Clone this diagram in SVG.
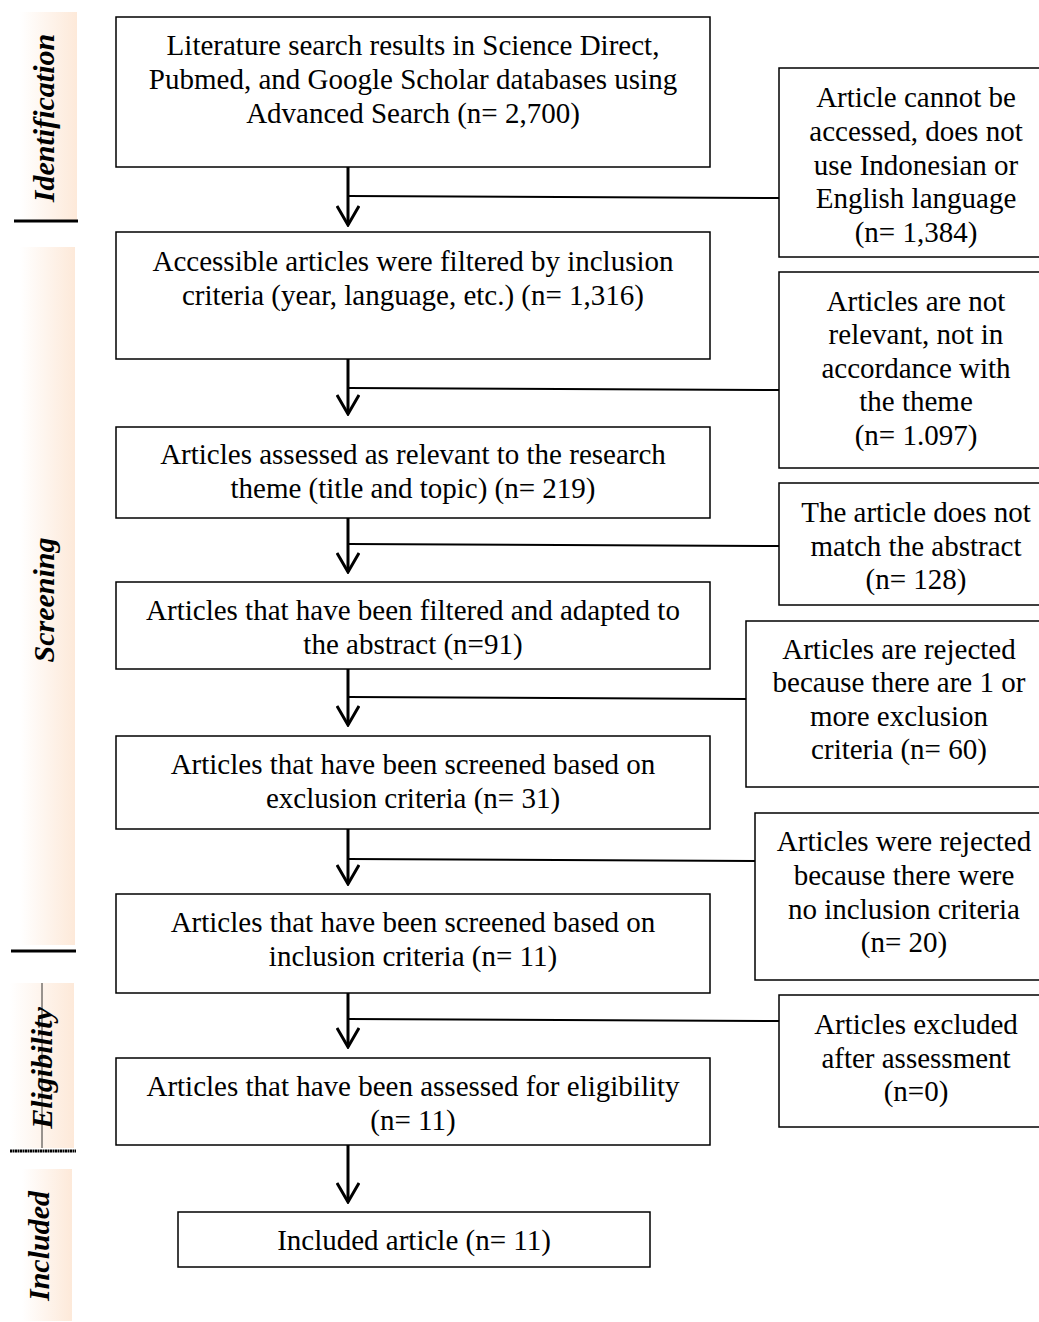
<svg xmlns="http://www.w3.org/2000/svg" width="1039" height="1322" viewBox="0 0 1039 1322">
<defs>
<linearGradient id="band" x1="0" y1="0" x2="1" y2="0">
<stop offset="0" stop-color="#ffffff"/>
<stop offset="1" stop-color="#fde9d9"/>
</linearGradient>
<marker id="chev" viewBox="0 0 22 24" refX="20" refY="12" markerWidth="22" markerHeight="24" markerUnits="userSpaceOnUse" orient="auto">
<path d="M1,1 L20,12 L1,23" fill="none" stroke="#000" stroke-width="3"/>
</marker>
</defs>
<style>
.box{fill:#fff;stroke:#000;stroke-width:1.5}
.t{font-family:"Liberation Serif","Times New Roman",serif;font-size:29px;fill:#000;text-anchor:middle}
.lab{font-family:"Liberation Serif","Times New Roman",serif;font-size:30px;font-weight:bold;font-style:italic;fill:#000;text-anchor:middle}
.v{stroke:#000;stroke-width:3;fill:none}
.h{stroke:#000;stroke-width:2;fill:none}
</style>
<rect width="1039" height="1322" fill="#fff"/>
<g id="phases">
<rect x="20" y="12" width="57" height="208" fill="url(#band)"/>
<rect x="20" y="247" width="55" height="698" fill="url(#band)"/>
<rect x="10" y="983" width="64" height="165" fill="url(#band)"/>
<rect x="22" y="1169" width="50" height="152" fill="url(#band)"/>
<line x1="14" y1="221" x2="78" y2="221" stroke="#000" stroke-width="3"/>
<line x1="11" y1="951" x2="76" y2="951" stroke="#000" stroke-width="3"/>
<line x1="10" y1="1151" x2="76" y2="1151" stroke="#000" stroke-width="3" stroke-dasharray="2 0.5"/>
<text class="lab" transform="translate(54,118) rotate(-90)">Identification</text>
<text class="lab" transform="translate(54,600) rotate(-90)">Screening</text>
<text class="lab" transform="translate(52,1068) rotate(-90)">Eligibility</text>
<text class="lab" transform="translate(49,1246) rotate(-90)">Included</text>
<line x1="42" y1="983" x2="42" y2="1148" stroke="#000" stroke-width="0.8"/>
</g>
<g id="connectors">
<line class="v" x1="348" y1="167" x2="348" y2="225" marker-end="url(#chev)"/>
<line class="h" x1="348" y1="196" x2="779" y2="198"/>
<line class="v" x1="348" y1="359" x2="348" y2="414" marker-end="url(#chev)"/>
<line class="h" x1="348" y1="388" x2="779" y2="390"/>
<line class="v" x1="348" y1="518" x2="348" y2="572" marker-end="url(#chev)"/>
<line class="h" x1="348" y1="544" x2="779" y2="546"/>
<line class="v" x1="348" y1="669" x2="348" y2="725" marker-end="url(#chev)"/>
<line class="h" x1="348" y1="697" x2="746" y2="699"/>
<line class="v" x1="348" y1="829" x2="348" y2="884" marker-end="url(#chev)"/>
<line class="h" x1="348" y1="859" x2="755" y2="861"/>
<line class="v" x1="348" y1="993" x2="348" y2="1047" marker-end="url(#chev)"/>
<line class="h" x1="348" y1="1019" x2="779" y2="1021"/>
<line class="v" x1="348" y1="1145" x2="348" y2="1202" marker-end="url(#chev)"/>
</g>
<g id="n1">
<rect class="box" x="116" y="17" width="594" height="150"/>
<text class="t" x="413" y="55">Literature search results in Science Direct,</text>
<text class="t" x="413" y="89">Pubmed, and Google Scholar databases using</text>
<text class="t" x="413" y="123">Advanced Search (n= 2,700)</text>
</g>
<g id="n2">
<rect class="box" x="116" y="232" width="594" height="127"/>
<text class="t" x="413" y="271">Accessible articles were filtered by inclusion</text>
<text class="t" x="413" y="305">criteria (year, language, etc.) (n= 1,316)</text>
</g>
<g id="n3">
<rect class="box" x="116" y="427" width="594" height="91"/>
<text class="t" x="413" y="464">Articles assessed as relevant to the research</text>
<text class="t" x="413" y="498">theme (title and topic) (n= 219)</text>
</g>
<g id="n4">
<rect class="box" x="116" y="582" width="594" height="87"/>
<text class="t" x="413" y="620">Articles that have been filtered and adapted to</text>
<text class="t" x="413" y="654">the abstract (n=91)</text>
</g>
<g id="n5">
<rect class="box" x="116" y="736" width="594" height="93"/>
<text class="t" x="413" y="774">Articles that have been screened based on</text>
<text class="t" x="413" y="808">exclusion criteria (n= 31)</text>
</g>
<g id="n6">
<rect class="box" x="116" y="894" width="594" height="99"/>
<text class="t" x="413" y="932">Articles that have been screened based on</text>
<text class="t" x="413" y="966">inclusion criteria (n= 11)</text>
</g>
<g id="n7">
<rect class="box" x="116" y="1058" width="594" height="87"/>
<text class="t" x="413" y="1096">Articles that have been assessed for eligibility</text>
<text class="t" x="413" y="1130">(n= 11)</text>
</g>
<g id="n8">
<rect class="box" x="178" y="1212" width="472" height="55"/>
<text class="t" x="414" y="1250">Included article (n= 11)</text>
</g>
<g id="r1">
<rect class="box" x="779" y="68" width="262" height="189"/>
<text class="t" x="916" y="107">Article cannot be</text>
<text class="t" x="916" y="141">accessed, does not</text>
<text class="t" x="916" y="175">use Indonesian or</text>
<text class="t" x="916" y="208">English language</text>
<text class="t" x="916" y="242">(n= 1,384)</text>
</g>
<g id="r2">
<rect class="box" x="779" y="272" width="262" height="196"/>
<text class="t" x="916" y="311">Articles are not</text>
<text class="t" x="916" y="344">relevant, not in</text>
<text class="t" x="916" y="378">accordance with</text>
<text class="t" x="916" y="411">the theme</text>
<text class="t" x="916" y="445">(n= 1.097)</text>
</g>
<g id="r3">
<rect class="box" x="779" y="483" width="262" height="122"/>
<text class="t" x="916" y="522">The article does not</text>
<text class="t" x="916" y="556">match the abstract</text>
<text class="t" x="916" y="589">(n= 128)</text>
</g>
<g id="r4">
<rect class="box" x="746" y="621" width="295" height="166"/>
<text class="t" x="899" y="659">Articles are rejected</text>
<text class="t" x="899" y="692">because there are 1 or</text>
<text class="t" x="899" y="726">more exclusion</text>
<text class="t" x="899" y="759">criteria (n= 60)</text>
</g>
<g id="r5">
<rect class="box" x="755" y="813" width="286" height="167"/>
<text class="t" x="904" y="851">Articles were rejected</text>
<text class="t" x="904" y="885">because there were</text>
<text class="t" x="904" y="919">no inclusion criteria</text>
<text class="t" x="904" y="952">(n= 20)</text>
</g>
<g id="r6">
<rect class="box" x="779" y="995" width="262" height="132"/>
<text class="t" x="916" y="1034">Articles excluded</text>
<text class="t" x="916" y="1068">after assessment</text>
<text class="t" x="916" y="1101">(n=0)</text>
</g>
</svg>
